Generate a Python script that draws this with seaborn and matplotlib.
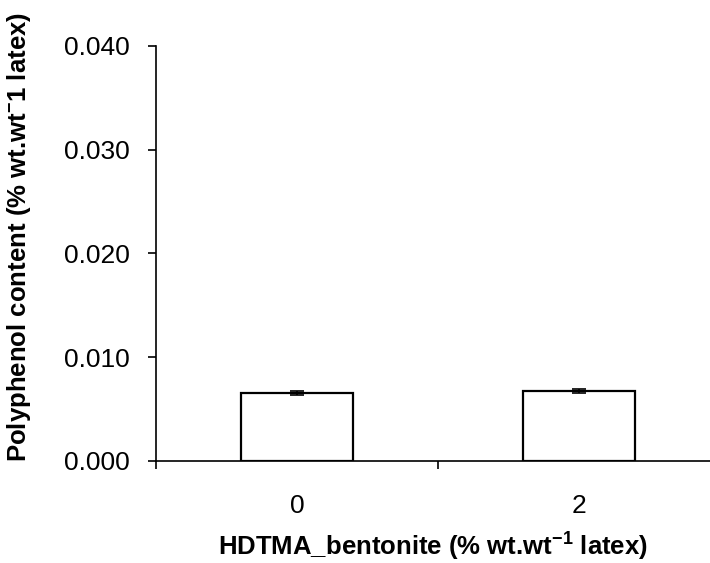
import matplotlib
matplotlib.use("Agg")
import matplotlib.pyplot as plt
import seaborn as sns
import pandas as pd
import numpy as np

# Polyphenol content by HDTMA-bentonite loading
loadings = ["0", "2"]
polyphenol = [0.00655, 0.00675]
polyphenol_err = [0.00022, 0.00022]
y_ticks = [0.000, 0.010, 0.020, 0.030, 0.040]

sns.set_theme(style="white")
plt.rcParams["font.family"] = ["Liberation Sans", "DejaVu Sans"]
plt.rcParams["mathtext.fontset"] = "custom"
plt.rcParams["mathtext.rm"] = "Liberation Sans:bold"
plt.rcParams["mathtext.it"] = "Liberation Sans:bold"
plt.rcParams["mathtext.bf"] = "Liberation Sans:bold"

df = pd.DataFrame({"loading": loadings, "polyphenol": polyphenol})

fig = plt.figure(figsize=(7.10, 5.63), dpi=100)
ax = fig.add_axes([0.2197, 0.1812, 0.7803, 0.7371])

sns.barplot(data=df, x="loading", y="polyphenol", ax=ax, color="white",
            edgecolor="black", linewidth=1.6, width=0.4, errorbar=None)
ax.errorbar(np.arange(len(loadings)), polyphenol, yerr=polyphenol_err,
            fmt="none", ecolor="black", elinewidth=1.2, capsize=5, capthick=1.2)

ax.set_xlim(-0.5, 1.465)
ax.set_ylim(0, 0.040)
ax.set_yticks(y_ticks)
ax.set_yticklabels([f"{v:.3f}" for v in y_ticks])

ax.set_xticks([0, 1])
ax.set_xticklabels(loadings)
ax.set_xticks([-0.5, 0.5], minor=True)
ax.tick_params(axis="x", which="major", length=0, pad=24, labelsize=19, colors="black")
ax.tick_params(axis="x", which="minor", direction="out", length=6, width=1.2,
               color="black", bottom=True)
ax.tick_params(axis="y", which="major", direction="out", length=6, width=1.2,
               pad=13, labelsize=19, colors="black", left=True)

for side in ["top", "right"]:
    ax.spines[side].set_visible(False)
for side in ["left", "bottom"]:
    ax.spines[side].set_color("black")
    ax.spines[side].set_linewidth(1.2)

ax.set_xlabel(r"HDTMA_bentonite (% wt.wt$^{-1}$ latex)", fontsize=18.5,
              fontweight="bold", labelpad=9, color="black")
ax.set_ylabel(r"Polyphenol content (% wt.wt$^{-}$1 latex)", fontsize=18.5,
              fontweight="bold", color="black")
ax.yaxis.set_label_coords(-0.222, 0.54)

fig.savefig("out.png", dpi=100)
